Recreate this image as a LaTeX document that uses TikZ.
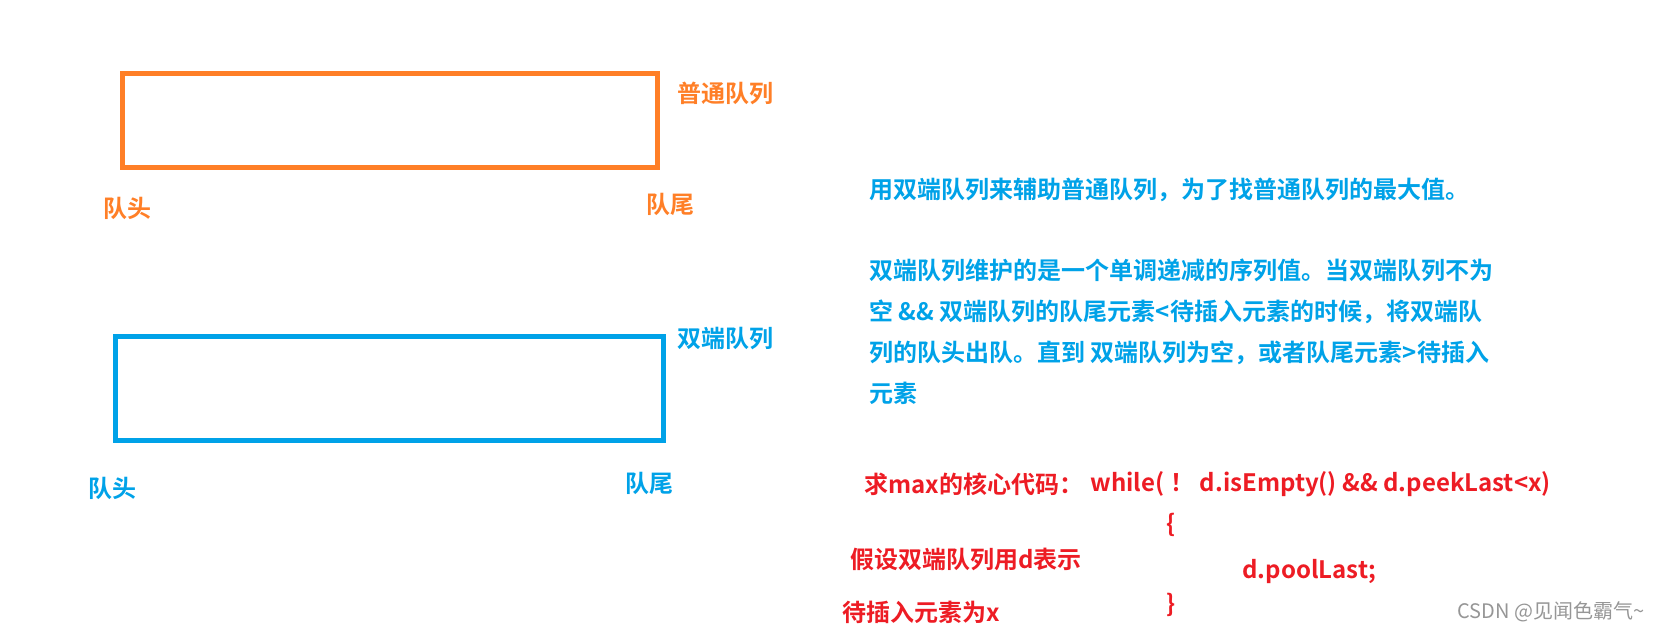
\documentclass[tikz,border=0pt]{standalone}
\usepackage{fontspec}
\setmainfont{Noto Sans CJK SC}[BoldFont={Noto Sans CJK SC Bold}]

\definecolor{qorange}{RGB}{255,127,39}
\definecolor{qblue}{RGB}{0,162,232}
\definecolor{qred}{RGB}{237,28,36}
\definecolor{qgrey}{RGB}{150,150,150}

\tikzset{every picture/.style={line width=0.75pt}}
\tikzset{
  qlabel/.style={anchor=west,inner sep=0pt,font=\fontsize{18}{22}\selectfont\bfseries},
  qbox/.style={line width=3.75pt},
}

\begin{document}
\begin{tikzpicture}[x=0.75pt,y=0.75pt,yscale=-1,xscale=1]
\path[use as bounding box] (0,0) rectangle (1656,632);

%Shape: Rectangle [normal queue]
\draw [qbox,color=qorange] (122.5,73.5) rectangle (657,167);
%Shape: Rectangle [deque]
\draw [qbox,color=qblue] (115,336) rectangle (663,440);

% Text Node
\node (queueName) [qlabel,text=qorange] at (677,93) {普通队列};
% Text Node
\node (queueHead) [qlabel,text=qorange] at (103,208) {队头};
% Text Node
\node (queueTail) [qlabel,text=qorange] at (646,204) {队尾};
% Text Node
\node (dequeName) [qlabel,text=qblue] at (677,339) {双端队列};
% Text Node
\node (dequeHead) [qlabel,text=qblue] at (88,488) {队头};
% Text Node
\node (dequeTail) [qlabel,text=qblue] at (625,483) {队尾};

% Text Node
\node (idea) [qlabel,text=qblue] at (869,190) {用双端队列来辅助普通队列，为了找普通队列的最大值。};
% Text Node
\node (rule) [qlabel,text=qblue,anchor=north west,align=left,font=\fontsize{18}{30.75}\selectfont\bfseries] at (869,258) {双端队列维护的是一个单调递减的序列值。当双端队列不为\\空 \&\& 双端队列的队尾元素<待插入元素的时候，将双端队\\列的队头出队。直到 双端队列为空，或者队尾元素>待插入\\元素};

% Text Node
\node (coreTitle) [qlabel,text=qred] at (864,484) {求max的核心代码：};
% Text Node
\node (loopHead) [qlabel,text=qred] at (1090,484) {while(\kern4.5pt！ d.isEmpty() \&\& d.peekLast<x)};
% Text Node
\node (braceOpen) [qlabel,text=qred] at (1166,525) {\{};
% Text Node
\node (loopBody) [qlabel,text=qred] at (1242,571) {d.poolLast;};
% Text Node
\node (braceClose) [qlabel,text=qred] at (1166,605) {\}};
% Text Node
\node (noteD) [qlabel,text=qred] at (850,559) {假设双端队列用d表示};
% Text Node
\node (noteX) [qlabel,text=qred] at (842,612) {待插入元素为x};

% Text Node
\node (mark) [anchor=west,inner sep=0pt,text=qgrey,font=\fontsize{15}{18}\selectfont] at (1457,612) {CSDN @见闻色霸气\textasciitilde};

\end{tikzpicture}
\end{document}
